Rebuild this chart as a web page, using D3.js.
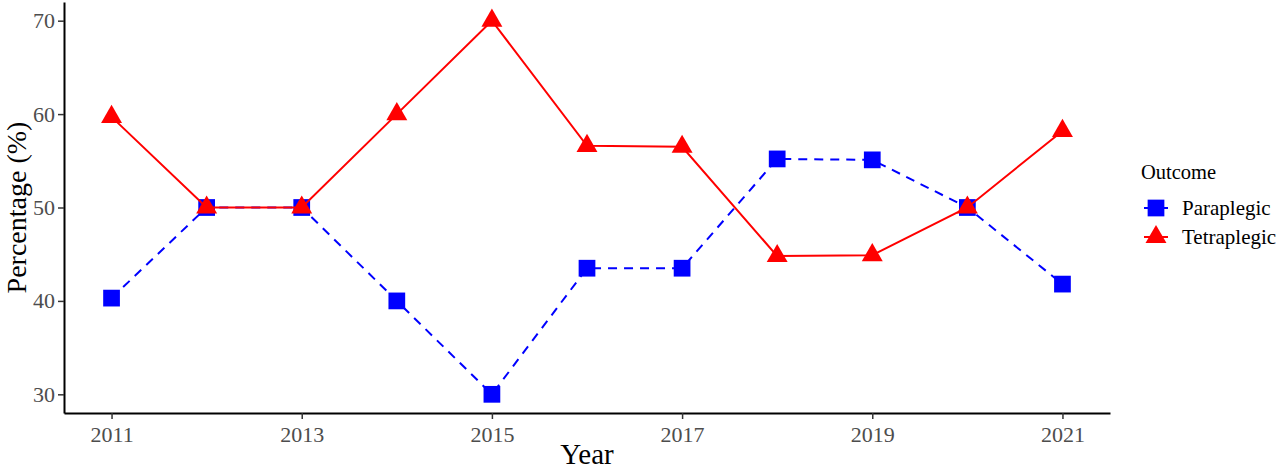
<!DOCTYPE html>
<html>
<head>
<meta charset="utf-8">
<script src="https://cdn.jsdelivr.net/npm/d3@7"></script>
<style>
  body { margin: 0; background: #fff; }
  text { font-family: "Liberation Serif", "DejaVu Serif", serif; }
</style>
</head>
<body>
<svg id="chart" width="1280" height="470"></svg>
<script>
// years and percentages per outcome
const years = [2011, 2012, 2013, 2014, 2015, 2016, 2017, 2018, 2019, 2020, 2021];
const paraplegic = [40.3, 50, 50, 40, 30, 43.5, 43.5, 55.2, 55.1, 50, 41.8];
const tetraplegic = [59.7, 50, 50, 60, 70, 56.6, 56.5, 44.8, 44.9, 50, 58.2];
const xTicks = [2011, 2013, 2015, 2017, 2019, 2021];
const yTicks = [30, 40, 50, 60, 70];

let margin = { left: 64, right: 170, top: 2, bottom: 57 };
let width = 1280, height = 470;
let svg = d3.select("#chart");

let xScale = d3.scaleLinear()
  .domain([2010.5, 2021.5])
  .range([margin.left, width - margin.right]);
let yScale = d3.scaleLinear()
  .domain([28, 72])
  .range([height - margin.bottom, margin.top]);

// axes
let xAxis = svg.append("g")
  .attr("transform", "translate(0," + (height - margin.bottom) + ")")
  .call(d3.axisBottom(xScale).tickValues(xTicks).tickFormat(d3.format("d")).tickSize(6).tickSizeOuter(0));
let yAxis = svg.append("g")
  .attr("transform", "translate(" + margin.left + ",0)")
  .call(d3.axisLeft(yScale).tickValues(yTicks).tickSize(6).tickSizeOuter(0));

[xAxis, yAxis].forEach(a => {
  a.select(".domain").attr("stroke", "#000").attr("stroke-width", 2);
  a.selectAll(".tick line").attr("stroke", "#333").attr("stroke-width", 1.5);
  a.selectAll(".tick text")
    .attr("fill", "#4d4d4d")
    .style("font-size", "22px")
    .style("font-family", "Liberation Serif, serif");
});
xAxis.selectAll(".tick text").attr("dy", "0.95em").attr("y", 8);
yAxis.selectAll(".tick text").attr("x", -9);

// axis titles
svg.append("text")
  .attr("x", (margin.left + width - margin.right) / 2)
  .attr("y", 464)
  .attr("text-anchor", "middle")
  .style("font-size", "29px")
  .text("Year");
svg.append("text")
  .attr("transform", "translate(26," + ((height - margin.bottom + margin.top) / 2) + ")rotate(-90)")
  .attr("text-anchor", "middle")
  .style("font-size", "28px")
  .text("Percentage (%)");

let line = d3.line()
  .x(d => xScale(d.year))
  .y(d => yScale(d.value));

let series = [
  { name: "Paraplegic", values: paraplegic, color: "#0000ff", dash: "9,7", symbol: d3.symbolSquare, size: 280 },
  { name: "Tetraplegic", values: tetraplegic, color: "#ff0000", dash: null, symbol: d3.symbolTriangle, size: 190 }
];

series.forEach(s => {
  let pts = years.map((y, i) => ({ year: y, value: s.values[i] }));
  svg.append("path")
    .datum(pts)
    .attr("fill", "none")
    .attr("stroke", s.color)
    .attr("stroke-width", 2)
    .attr("stroke-dasharray", s.dash)
    .attr("d", line);
  svg.append("g")
    .selectAll("path")
    .data(pts)
    .enter()
    .append("path")
    .attr("transform", d => "translate(" + xScale(d.year) + "," + yScale(d.value) + ")")
    .attr("d", d3.symbol().type(s.symbol).size(s.size))
    .attr("fill", s.color);
});

// legend
let legend = svg.append("g").attr("transform", "translate(1141,0)");
legend.append("text")
  .attr("x", 0)
  .attr("y", 179)
  .style("font-size", "20.5px")
  .text("Outcome");
series.forEach((s, i) => {
  let cy = 208 + i * 29;
  legend.append("line")
    .attr("x1", 3).attr("x2", 27)
    .attr("y1", cy).attr("y2", cy)
    .attr("stroke", s.color)
    .attr("stroke-width", 2)
    .attr("stroke-dasharray", s.dash);
  legend.append("path")
    .attr("transform", "translate(15," + cy + ")")
    .attr("d", d3.symbol().type(s.symbol).size(s.size))
    .attr("fill", s.color);
  legend.append("text")
    .attr("x", 41)
    .attr("y", cy + 7)
    .style("font-size", "21px")
    .text(s.name);
});
</script>
</body>
</html>
